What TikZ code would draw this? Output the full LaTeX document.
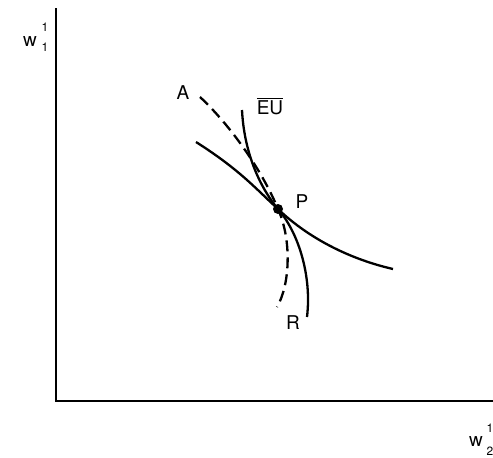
\documentclass[tikz,border=0pt]{standalone}
\usepackage{amsmath}
\usepackage{fontspec}
\setmainfont{TeX Gyre Heros}
\usetikzlibrary{positioning}

\begin{document}
\begin{tikzpicture}[x=1pt, y=-1pt, every node/.style={font=\fontsize{19}{22}\selectfont, inner sep=0pt},
    digit/.style={font=\fontsize{12}{14}\selectfont}]
    \useasboundingbox (0,0) rectangle (493,458);
    \coordinate (top) at (56,8);
    \coordinate (o) at (56,401);
    \coordinate (xend) at (494,401);
    \draw[line width=2pt] (top) -- (o) -- (xend);
    \coordinate (P) at (278,209);
    % budget line and the two curves through P
    \draw[line width=2.3pt] (196,142) .. controls (240,170) and (255,188) .. (P)
        .. controls (305,235) and (345,258) .. (393,269);
    \draw[line width=2.3pt] (242,110) .. controls (244,150) and (258,185) .. (P)
        .. controls (298,232) and (312,275) .. (307,317);
    \draw[line width=2.3pt, dash pattern=on 11pt off 6pt] (200,97) .. controls (230,125) and (262,170) .. (P)
        .. controls (292,240) and (290,285) .. (277,307);
    \fill (P) circle (5pt);
    \node (A) at (183,93) {A};
    \node (EU) at (270,106) {$\overline{\text{EU}}$};
    \node (Plab) at (302,202) {P};
    \node (R) at (293,323) {R};
    % axis labels
    \node (w1) at (30,42) {w};
    \node[digit] (w1sup) at (45,27) {1};
    \node[digit] (w1sub) at (45,47) {1};
    \node (w2) at (476,442) {w};
    \node[digit] (w2sup) at (490,428) {1};
    \node[digit] (w2sub) at (490,451) {2};
\end{tikzpicture}
\end{document}
